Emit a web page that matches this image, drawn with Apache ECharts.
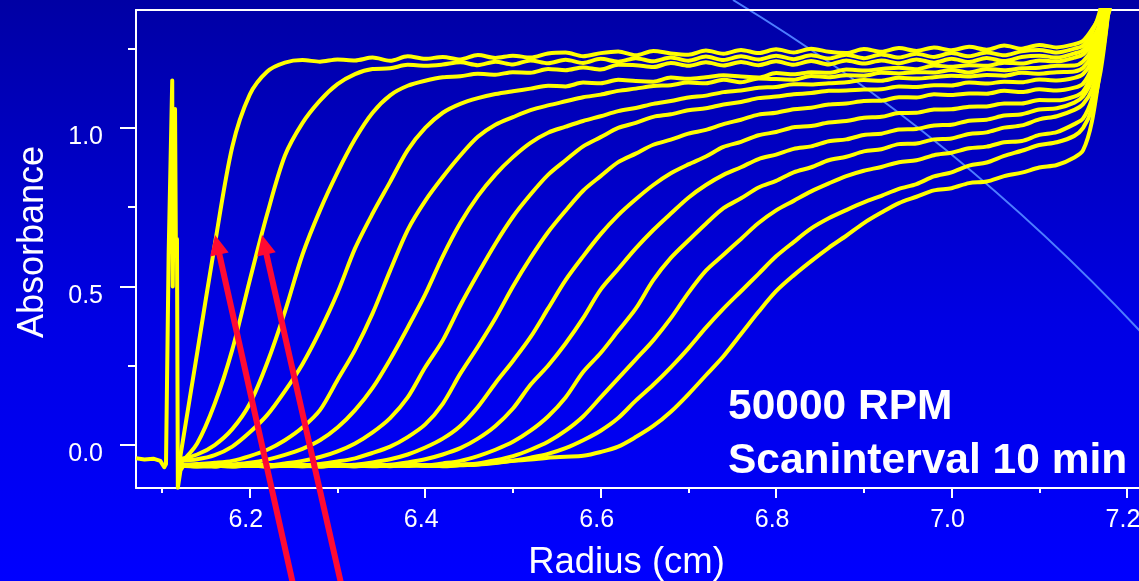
<!DOCTYPE html>
<html>
<head>
<meta charset="utf-8">
<script src="https://cdn.jsdelivr.net/npm/echarts@6/dist/echarts.min.js"></script>
<style>
  html, body { margin: 0; padding: 0; }
  #chart {
    width: 1139px; height: 581px;
    background: linear-gradient(to bottom, #0000a4 0%, #0000e4 55%, #0000ff 100%);
  }
</style>
</head>
<body>
<div id="chart"></div>
<script>
// Radial positions (cm) shared by every scan
const radius = [
  6.12, 6.14, 6.16, 6.18, 6.20, 6.22, 6.24, 6.26, 6.28, 6.30,
  6.32, 6.34, 6.36, 6.38, 6.40, 6.42, 6.44, 6.46, 6.48, 6.50,
  6.52, 6.54, 6.56, 6.58, 6.60, 6.62, 6.64, 6.66, 6.68, 6.70,
  6.72, 6.74, 6.76, 6.78, 6.80, 6.82, 6.84, 6.86, 6.88, 6.90,
  6.92, 6.94, 6.96, 6.98, 7.00, 7.02, 7.04, 7.06, 7.08, 7.10,
  7.12, 7.14, 7.15, 7.16, 7.17, 7.18, 7.19
];

// Absorbance of each scan (10 min apart), one value per radius
const scan1 = [
  -0.05, 0.29, 0.63, 0.94, 1.105, 1.178, 1.206, 1.214, 1.209, 1.216,
  1.213, 1.222, 1.212, 1.226, 1.218, 1.224, 1.216, 1.23, 1.221, 1.228,
  1.222, 1.235, 1.238, 1.226, 1.236, 1.241, 1.229, 1.243, 1.235, 1.231,
  1.244, 1.234, 1.246, 1.236, 1.248, 1.238, 1.25, 1.24, 1.236, 1.249,
  1.24, 1.252, 1.243, 1.254, 1.245, 1.256, 1.247, 1.26, 1.25, 1.262,
  1.254, 1.264, 1.275, 1.31, 1.36, 1.5, 1.7
];
const scan2 = [
  -0.06, 0.005, 0.13, 0.30, 0.52, 0.73, 0.912, 1.015, 1.086, 1.138,
  1.17, 1.186, 1.188, 1.199, 1.196, 1.2, 1.207, 1.198, 1.209, 1.2,
  1.213, 1.204, 1.215, 1.205, 1.218, 1.209, 1.22, 1.21, 1.222, 1.212,
  1.225, 1.214, 1.226, 1.216, 1.228, 1.217, 1.229, 1.219, 1.231, 1.22,
  1.232, 1.222, 1.234, 1.224, 1.236, 1.226, 1.238, 1.229, 1.242, 1.246,
  1.238, 1.25, 1.26, 1.3, 1.38, 1.6, 1.7
];
const scan3 = [
  -0.045, -0.03, 0.0, 0.05, 0.13, 0.26, 0.42, 0.60, 0.74, 0.86,
  0.965, 1.048, 1.103, 1.133, 1.149, 1.16, 1.163, 1.171, 1.168, 1.176,
  1.174, 1.186, 1.182, 1.191, 1.184, 1.199, 1.198, 1.192, 1.205, 1.196,
  1.207, 1.197, 1.208, 1.198, 1.21, 1.199, 1.211, 1.2, 1.213, 1.203,
  1.213, 1.204, 1.216, 1.206, 1.218, 1.208, 1.221, 1.211, 1.224, 1.228,
  1.222, 1.235, 1.245, 1.28, 1.33, 1.42, 1.7
];
const scan4 = [
  -0.05, -0.045, -0.032, -0.005, 0.04, 0.095, 0.17, 0.255, 0.36, 0.48,
  0.62, 0.73, 0.83, 0.93, 1.0, 1.048, 1.076, 1.094, 1.107, 1.116,
  1.124, 1.133, 1.131, 1.143, 1.141, 1.152, 1.148, 1.146, 1.159, 1.155,
  1.16, 1.166, 1.162, 1.159, 1.173, 1.169, 1.176, 1.174, 1.184, 1.181,
  1.186, 1.19, 1.185, 1.197, 1.193, 1.198, 1.196, 1.206, 1.203, 1.213,
  1.21, 1.222, 1.232, 1.265, 1.31, 1.37, 1.6
];
const scan5 = [
  -0.064, -0.06, -0.056, -0.05, -0.035, -0.015, 0.015, 0.055, 0.11, 0.205,
  0.30, 0.415, 0.55, 0.678, 0.77, 0.845, 0.913, 0.972, 1.01, 1.034,
  1.056, 1.071, 1.084, 1.097, 1.105, 1.117, 1.124, 1.132, 1.135, 1.143,
  1.141, 1.152, 1.144, 1.156, 1.154, 1.152, 1.164, 1.16, 1.166, 1.165,
  1.174, 1.172, 1.176, 1.175, 1.183, 1.175, 1.186, 1.182, 1.188, 1.19,
  1.196, 1.197, 1.21, 1.25, 1.35, 1.55, 1.7
];
const scan6 = [
  -0.066, -0.063, -0.067, -0.062, -0.056, -0.046, -0.031, -0.012, 0.015, 0.055,
  0.11, 0.18, 0.27, 0.37, 0.475, 0.595, 0.70, 0.785, 0.853, 0.908,
  0.953, 0.985, 1.004, 1.022, 1.037, 1.053, 1.063, 1.076, 1.085, 1.096,
  1.102, 1.113, 1.118, 1.127, 1.129, 1.138, 1.137, 1.141, 1.144, 1.151,
  1.149, 1.158, 1.156, 1.16, 1.165, 1.162, 1.167, 1.165, 1.174, 1.171,
  1.176, 1.178, 1.19, 1.23, 1.32, 1.5, 1.7
];
const scan7 = [
  -0.065, -0.068, -0.064, -0.066, -0.063, -0.065, -0.058, -0.05, -0.038, -0.02,
  0.005, 0.04, 0.085, 0.15, 0.245, 0.33, 0.44, 0.54, 0.635, 0.72,
  0.79, 0.852, 0.898, 0.942, 0.971, 1.0, 1.016, 1.035, 1.043, 1.056,
  1.062, 1.074, 1.082, 1.094, 1.099, 1.106, 1.11, 1.117, 1.118, 1.121,
  1.122, 1.131, 1.129, 1.135, 1.134, 1.143, 1.14, 1.146, 1.144, 1.153,
  1.15, 1.158, 1.17, 1.21, 1.3, 1.48, 1.7
];
const scan8 = [
  -0.064, -0.066, -0.063, -0.067, -0.064, -0.066, -0.062, -0.065, -0.06, -0.052,
  -0.042, -0.025, -0.005, 0.025, 0.065, 0.13, 0.225, 0.31, 0.40, 0.50,
  0.59, 0.671, 0.739, 0.802, 0.848, 0.892, 0.919, 0.947, 0.963, 0.982,
  0.994, 1.012, 1.026, 1.042, 1.048, 1.059, 1.064, 1.074, 1.077, 1.085,
  1.086, 1.097, 1.096, 1.106, 1.104, 1.109, 1.108, 1.117, 1.113, 1.122,
  1.118, 1.127, 1.14, 1.19, 1.28, 1.45, 1.7
];
const scan9 = [
  -0.066, -0.063, -0.067, -0.064, -0.066, -0.062, -0.065, -0.067, -0.063, -0.066,
  -0.062, -0.055, -0.045, -0.03, -0.008, 0.02, 0.06, 0.12, 0.195, 0.265,
  0.34, 0.43, 0.52, 0.595, 0.665, 0.725, 0.775, 0.82, 0.857, 0.885,
  0.91, 0.94, 0.956, 0.977, 0.987, 1.002, 1.006, 1.017, 1.022, 1.032,
  1.035, 1.047, 1.048, 1.058, 1.059, 1.067, 1.068, 1.077, 1.077, 1.088,
  1.087, 1.099, 1.115, 1.17, 1.26, 1.42, 1.7
];
const scan10 = [
  -0.065, -0.067, -0.063, -0.066, -0.064, -0.067, -0.063, -0.065, -0.068, -0.064,
  -0.066, -0.063, -0.062, -0.055, -0.045, -0.03, -0.01, 0.02, 0.06, 0.115,
  0.19, 0.25, 0.32, 0.40, 0.49, 0.555, 0.62, 0.678, 0.73, 0.78,
  0.82, 0.852, 0.876, 0.902, 0.916, 0.934, 0.942, 0.958, 0.964, 0.978,
  0.982, 0.995, 0.997, 1.008, 1.01, 1.023, 1.026, 1.039, 1.043, 1.058,
  1.062, 1.08, 1.1, 1.15, 1.24, 1.42, 1.7
];
const scan11 = [
  -0.064, -0.066, -0.068, -0.063, -0.065, -0.067, -0.064, -0.066, -0.062, -0.065,
  -0.067, -0.064, -0.066, -0.063, -0.065, -0.058, -0.05, -0.035, -0.015, 0.01,
  0.045, 0.09, 0.15, 0.23, 0.29, 0.36, 0.43, 0.52, 0.59, 0.645,
  0.698, 0.747, 0.778, 0.812, 0.833, 0.86, 0.876, 0.898, 0.909, 0.926,
  0.933, 0.949, 0.951, 0.964, 0.967, 0.981, 0.986, 1.001, 1.008, 1.027,
  1.037, 1.057, 1.075, 1.12, 1.22, 1.4, 1.7
];
const scan12 = [
  -0.066, -0.063, -0.065, -0.068, -0.064, -0.066, -0.063, -0.067, -0.065, -0.062,
  -0.066, -0.064, -0.067, -0.063, -0.065, -0.066, -0.062, -0.058, -0.048, -0.035,
  -0.015, 0.01, 0.045, 0.09, 0.15, 0.21, 0.27, 0.33, 0.40, 0.48,
  0.55, 0.60, 0.65, 0.70, 0.74, 0.77, 0.80, 0.825, 0.848, 0.865,
  0.877, 0.892, 0.898, 0.914, 0.922, 0.936, 0.941, 0.955, 0.959, 0.978,
  0.987, 1.012, 1.03, 1.09, 1.2, 1.4, 1.7
];
const scan13 = [
  -0.065, -0.067, -0.063, -0.066, -0.064, -0.068, -0.065, -0.062, -0.066, -0.064,
  -0.067, -0.063, -0.065, -0.066, -0.063, -0.067, -0.064, -0.062, -0.057, -0.05,
  -0.04, -0.028, -0.01, 0.015, 0.045, 0.085, 0.14, 0.19, 0.245, 0.305,
  0.37, 0.43, 0.485, 0.54, 0.595, 0.64, 0.683, 0.715, 0.741, 0.765,
  0.786, 0.808, 0.823, 0.847, 0.86, 0.881, 0.891, 0.912, 0.928, 0.946,
  0.955, 0.975, 1.0, 1.06, 1.18, 1.4, 1.7
];
const scan14 = [
  -0.064, -0.066, -0.063, -0.067, -0.065, -0.062, -0.066, -0.064, -0.068, -0.063,
  -0.065, -0.067, -0.064, -0.062, -0.066, -0.065, -0.063, -0.06, -0.056, -0.05,
  -0.046, -0.04, -0.037, -0.034, -0.022, -0.005, 0.025, 0.06, 0.105, 0.16,
  0.22, 0.28, 0.35, 0.42, 0.485, 0.535, 0.58, 0.622, 0.66, 0.70,
  0.733, 0.763, 0.783, 0.803, 0.81, 0.826, 0.831, 0.848, 0.859, 0.875,
  0.883, 0.907, 0.93, 1.02, 1.2, 1.42, 1.7
];
const scans = [scan1, scan2, scan3, scan4, scan5, scan6, scan7,
               scan8, scan9, scan10, scan11, scan12, scan13, scan14];

// Meniscus region: baseline before the meniscus and its spike
const meniscusRadius = [6.0703, 6.08, 6.09, 6.098, 6.1025, 6.1045, 6.1075, 6.1116,
                        6.1122, 6.1135, 6.1148, 6.1158, 6.117, 6.118, 6.121, 6.125];
const meniscusAbs = [-0.042, -0.046, -0.043, -0.05, -0.07, -0.06, 0.6, 1.15,
                     0.5, 0.9, 1.06, 0.6, 0.65, -0.135, -0.08, -0.062];

// Arrows marking the first two boundaries: [tailR, tailA, tipR, tipA]
const arrows = [
  [6.2494, -0.44, 6.1604, 0.6625],
  [6.3043, -0.44, 6.2140, 0.6625]
];

// Axis ranges and tick positions
const X_MIN = 6.0703, X_MAX = 7.2137;
const Y_MIN = -0.1356, Y_MAX = 1.372;
const xMajor = [6.2, 6.4, 6.6, 6.8, 7.0, 7.2];
const xMinor = [6.1, 6.3, 6.5, 6.7, 6.9, 7.1];
const yMajor = [0.0, 0.5, 1.0];
const yMinor = [0.25, 0.75, 1.25];

const FONT = '"Liberation Sans", Arial, Helvetica, sans-serif';
const WHITE = '#ffffff';
const YELLOW = '#ffff00';
const RED = '#ff0a32';

const chart = echarts.init(document.getElementById('chart'), null, { renderer: 'canvas' });

const scanSeries = scans.map((vals, k) => ({
  name: 'Scan ' + (k + 1),
  type: 'line',
  data: radius.map((r, i) => [r, vals[i]]),
  symbol: 'none',
  smooth: 0.3,
  lineStyle: { color: YELLOW, width: 4, join: 'round', cap: 'round' },
  z: 3,
  silent: true
}));

const meniscusSeries = {
  name: 'Meniscus',
  type: 'line',
  data: meniscusRadius.map((r, i) => [r, meniscusAbs[i]]),
  symbol: 'none',
  lineStyle: { color: YELLOW, width: 4, join: 'round' },
  z: 3,
  silent: true
};

const arrowSeries = {
  type: 'custom',
  coordinateSystem: 'cartesian2d',
  clip: false,
  silent: true,
  z: 10,
  data: arrows,
  renderItem: function (params, api) {
    const p0 = api.coord([api.value(0), api.value(1)]);
    const p1 = api.coord([api.value(2), api.value(3)]);
    const dx = p1[0] - p0[0], dy = p1[1] - p0[1];
    const len = Math.sqrt(dx * dx + dy * dy);
    const ux = dx / len, uy = dy / len;
    const headLen = 20, headHalf = 9.5;
    const base = [p1[0] - ux * headLen, p1[1] - uy * headLen];
    const left = [base[0] - uy * headHalf, base[1] + ux * headHalf];
    const right = [base[0] + uy * headHalf, base[1] - ux * headHalf];
    return {
      type: 'group',
      children: [
        { type: 'line', shape: { x1: p0[0], y1: p0[1], x2: base[0] + ux * 2, y2: base[1] + uy * 2 },
          style: { stroke: RED, lineWidth: 6 } },
        { type: 'polygon', shape: { points: [p1, left, right] }, style: { fill: RED } }
      ]
    };
  }
};

const axisLineStyle = { color: WHITE, width: 2 };

chart.setOption({
  animation: false,
  backgroundColor: 'transparent',
  grid: { left: 136, right: 0, top: 10, bottom: 93, containLabel: false, outerBoundsMode: 'none' },
  xAxis: [
    {
      type: 'value', min: X_MIN, max: X_MAX, position: 'bottom',
      name: 'Radius (cm)', nameLocation: 'middle', nameGap: 56,
      nameTextStyle: { color: WHITE, fontSize: 36.5, fontFamily: FONT, padding: [0, 22, 0, 0] },
      axisLine: { show: true, onZero: false, lineStyle: axisLineStyle },
      axisTick: { show: true, customValues: xMajor, length: 10, lineStyle: axisLineStyle },
      axisLabel: {
        customValues: xMajor, color: WHITE, fontSize: 25, fontFamily: FONT, margin: 20,
        padding: [0, 8, 0, 0],
        formatter: v => v.toFixed(1)
      },
      splitLine: { show: false }
    },
    {
      type: 'value', min: X_MIN, max: X_MAX, position: 'bottom',
      axisLine: { show: false, onZero: false },
      axisTick: { show: true, customValues: xMinor, length: 5, lineStyle: axisLineStyle },
      axisLabel: { show: false },
      splitLine: { show: false }
    },
    {
      type: 'value', min: X_MIN, max: X_MAX, position: 'top',
      axisLine: { show: true, onZero: false, lineStyle: axisLineStyle },
      axisTick: { show: false },
      axisLabel: { show: false },
      splitLine: { show: false }
    }
  ],
  yAxis: [
    {
      type: 'value', min: Y_MIN, max: Y_MAX, position: 'left',
      name: 'Absorbance', nameLocation: 'middle', nameGap: 85,
      nameTextStyle: { color: WHITE, fontSize: 36, fontFamily: FONT, padding: [0, 0, 0, 14] },
      axisLine: { show: true, onZero: false, lineStyle: axisLineStyle },
      axisTick: { show: true, customValues: yMajor, length: 16, lineStyle: axisLineStyle },
      axisLabel: {
        customValues: yMajor, color: WHITE, fontSize: 25, fontFamily: FONT, margin: 33,
        verticalAlign: 'top', lineHeight: 19,
        formatter: v => v.toFixed(1)
      },
      splitLine: { show: false }
    },
    {
      type: 'value', min: Y_MIN, max: Y_MAX, position: 'left',
      axisLine: { show: false, onZero: false },
      axisTick: { show: true, customValues: yMinor, length: 8, lineStyle: axisLineStyle },
      axisLabel: { show: false },
      splitLine: { show: false }
    }
  ],
  graphic: {
    elements: [
      {
        // faint decorative arc crossing the upper right of the slide
        type: 'bezierCurve', z: -5, silent: true,
        shape: { x1: 733, y1: 0, cpx1: 956, cpy1: 135, x2: 1140, y2: 331 },
        style: { stroke: '#4d7dff', lineWidth: 2, fill: null }
      },
      {
        type: 'text', left: 728, top: 380, z: 20, silent: true,
        style: {
          text: '50000 RPM\nScaninterval 10 min',
          fill: WHITE,
          font: 'bold 42.5px ' + FONT,
          lineHeight: 54
        }
      }
    ]
  },
  series: [meniscusSeries].concat(scanSeries, [arrowSeries])
});
</script>
</body>
</html>
